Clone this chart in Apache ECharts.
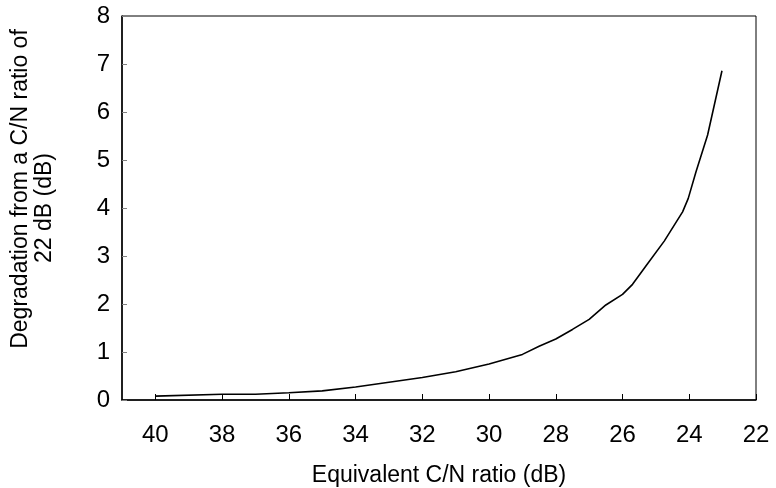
<!DOCTYPE html>
<html>
<head>
<meta charset="UTF-8">
<title>Degradation vs C/N</title>
<script src="https://cdn.jsdelivr.net/npm/echarts@6/dist/echarts.min.js"></script>
<style>
  html, body { margin: 0; padding: 0; background: #fff; }
  #chart { width: 776px; height: 488px; }
</style>
</head>
<body>
<div id="chart"></div>
<script type="text/javascript">
// C/N ratio (dB) and degradation (dB)
var cnRatio = [40, 38, 37, 36, 35, 34, 33, 32, 31, 30, 29, 28.5, 28, 27.5, 27, 26.5, 26, 25.7, 25.25, 24.75, 24.2, 24.03, 23.8, 23.45, 23.02];
var degradation = [0.08, 0.12, 0.12, 0.15, 0.19, 0.27, 0.37, 0.47, 0.59, 0.75, 0.95, 1.12, 1.27, 1.47, 1.68, 1.98, 2.2, 2.41, 2.84, 3.31, 3.92, 4.2, 4.75, 5.52, 6.86];
var xTicks = [40, 38, 36, 34, 32, 30, 28, 26, 24, 22];

var font = 'Liberation Sans, Arial, sans-serif';
var points = cnRatio.map(function (v, i) { return [v, degradation[i]]; });

var myChart = echarts.init(document.getElementById('chart'));

var option = {
    backgroundColor: '#fff',
    animation: false,
    grid: {
        left: 122, top: 16, right: 20, bottom: 88,
        outerBoundsMode: 'none',
        show: true, borderColor: '#000', borderWidth: 1
    },
    xAxis: {
        type: 'value',
        min: 22, max: 41,
        inverse: true,
        name: 'Equivalent C/N ratio (dB)',
        nameLocation: 'middle',
        nameGap: 64,
        nameTextStyle: { fontFamily: font, fontSize: 23, color: '#000' },
        axisLine: { show: true, onZero: false, lineStyle: { color: '#000', width: 1.5 } },
        axisTick: { show: true, inside: true, length: 6, customValues: xTicks, lineStyle: { color: '#000' } },
        axisLabel: { customValues: xTicks, margin: 23, fontFamily: font, fontSize: 24, color: '#000' },
        splitLine: { show: false }
    },
    yAxis: {
        type: 'value',
        min: 0, max: 8, interval: 1,
        name: '{a|Degradation from a C/N ratio of}\n{b|22 dB (dB)}',
        nameLocation: 'middle',
        nameGap: 65,
        nameTextStyle: {
            fontFamily: font, fontSize: 23, color: '#000', lineHeight: 24,
            rich: {
                a: { fontFamily: font, fontSize: 23, color: '#000', lineHeight: 24, padding: [0, 0, 0, 38] },
                b: { fontFamily: font, fontSize: 23, color: '#000', lineHeight: 24 }
            }
        },
        axisLine: { show: true, lineStyle: { color: '#000', width: 1.5 } },
        axisTick: { show: true, inside: true, length: 5, lineStyle: { color: '#808080' } },
        axisLabel: { margin: 12, fontFamily: font, fontSize: 24, color: '#000' },
        splitLine: { show: false }
    },
    series: [{
        type: 'line',
        data: points,
        symbol: 'none',
        smooth: false,
        lineStyle: { color: '#000', width: 1.6 }
    }]
};

myChart.setOption(option);
</script>
</body>
</html>
